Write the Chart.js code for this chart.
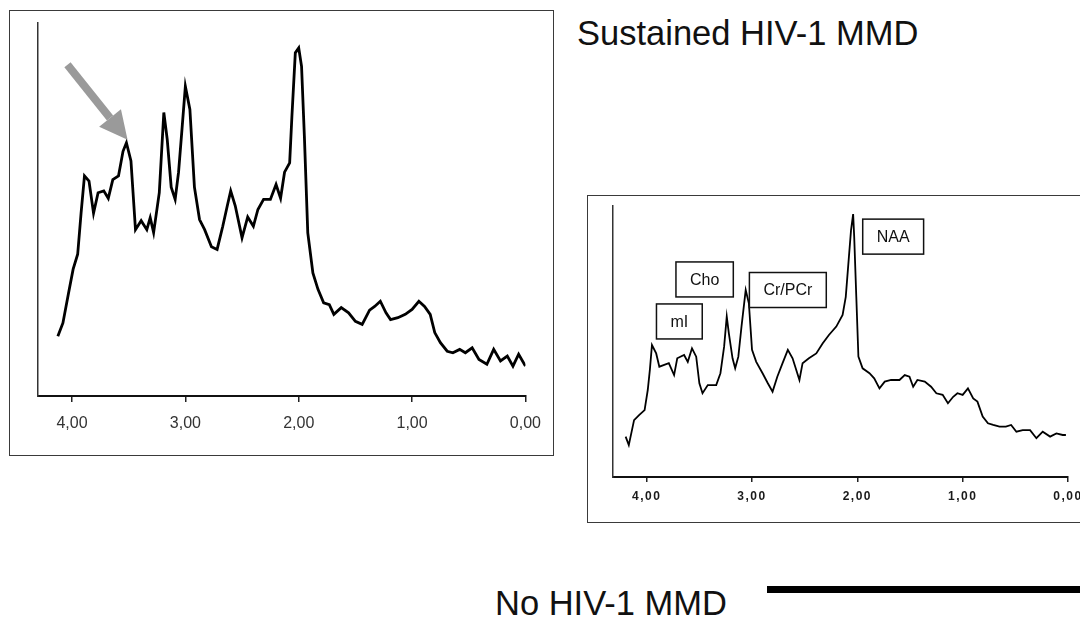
<!DOCTYPE html>
<html>
<head>
<meta charset="utf-8">
<script src="https://cdn.jsdelivr.net/npm/chart.js@4/dist/chart.umd.min.js"></script>
<style>
  html, body { margin: 0; padding: 0; background: #fff; }
  body { width: 1080px; height: 617px; position: relative; overflow: hidden; font-family: "Liberation Sans", Arial, sans-serif; }
  .panel { position: absolute; border: 1.5px solid #3a3a3a; box-sizing: border-box; }
  canvas { position: absolute; }
  .title { position: absolute; font-size: 34.5px; line-height: 1; color: #111; white-space: nowrap; }
  .bar { position: absolute; background: #000; }
</style>
</head>
<body>
<div class="panel" style="left:9px; top:10px; width:545px; height:446px;"></div>
<div class="panel" style="left:587px; top:195px; width:520px; height:328px;"></div>
<canvas id="leftChart" width="543" height="444" style="left:10px; top:11px;"></canvas>
<canvas id="rightChart" width="520" height="327" style="left:587px; top:195px;"></canvas>
<div class="title" style="left:577px; top:16px;">Sustained HIV-1 MMD</div>
<div class="title" style="left:495px; top:586px;">No HIV-1 MMD</div>
<div class="bar" style="left:767px; top:586px; width:330px; height:7px;"></div>
<script>
const TICKS = [4, 3, 2, 1, 0];

const leftPpm = [4.125,4.08,4.03,3.99,3.95,3.92,3.89,3.85,3.81,3.77,3.72,3.68,3.64,3.59,3.55,3.52,3.48,3.44,3.39,3.34,3.31,3.28,3.23,3.19,3.16,3.125,3.09,3.06,3.03,3.0,2.96,2.92,2.875,2.83,2.77,2.72,2.67,2.63,2.6,2.56,2.5,2.45,2.4,2.36,2.31,2.25,2.2,2.16,2.125,2.08,2.06,2.03,2.0,1.975,1.95,1.92,1.875,1.83,1.78,1.73,1.69,1.625,1.56,1.5,1.44,1.375,1.33,1.28,1.23,1.19,1.125,1.06,1.0,0.94,0.89,0.84,0.8,0.75,0.69,0.64,0.58,0.53,0.47,0.41,0.34,0.28,0.22,0.16,0.11,0.06,0.0];
const leftIntensity = [16,19.6,27.7,34,38,49,59,57.6,49,54.5,55,53,58,59,65.6,67.9,63,44.6,47,44.6,47.8,43.8,54.5,76,68.8,56,52.7,60,71.4,83,76.8,56,47.3,44.6,40,39.3,45.5,51,55,51,42.4,48,45.5,50,52.7,52.7,56.7,53,60,62.5,75,92,93.3,88.4,69.6,43.75,33,28.6,25,24.5,21.9,23.7,22.3,20,19.2,23,24,25.4,22.3,20.5,21,21.9,23.2,25.4,24,21.9,17,14.3,12,11.6,12.5,11.6,12.9,9.8,8.5,12.5,9.4,10.7,8,11.2,8];

const rightPpm = [4.2,4.17,4.14,4.12,4.07,4.02,3.99,3.97,3.95,3.91,3.88,3.84,3.79,3.74,3.71,3.645,3.61,3.57,3.53,3.5,3.47,3.42,3.34,3.3,3.265,3.24,3.22,3.185,3.16,3.13,3.1,3.06,3.03,3.0,2.96,2.9,2.85,2.805,2.76,2.71,2.66,2.615,2.55,2.52,2.46,2.39,2.33,2.27,2.2,2.14,2.11,2.08,2.06,2.04,2.03,2.01,1.99,1.95,1.885,1.84,1.79,1.74,1.68,1.6,1.55,1.505,1.47,1.43,1.36,1.3,1.25,1.19,1.14,1.09,1.05,1.0,0.95,0.9,0.86,0.81,0.76,0.71,0.65,0.59,0.54,0.49,0.43,0.36,0.3,0.24,0.17,0.11,0.05,0.02];
const rightIntensity = [14.9,11.8,17.3,21,22.9,24.7,32.1,39.5,48.7,45.6,40.7,41.3,42,37.6,43.8,45,42.5,47.5,44.4,34.6,30.9,33.9,33.9,38.3,48.1,59.2,53,43.8,40.1,44.4,55.5,69,64.1,46.9,42.5,38.3,34.6,31.5,37,42,46.9,43.8,35.8,42,43.8,45.6,49.3,52.4,55.5,59.8,66.5,81.3,91.1,97,88.7,66.5,44.4,40.1,38.3,36.4,32.7,35.2,35.8,35.8,37.6,37,33.3,35.8,35.2,33.3,30.9,30.3,27.2,29.6,30.9,30.3,32.7,29,27.8,22.3,19.8,19.2,18.6,18.6,19.2,16.7,17.3,17.3,14.3,16.7,14.9,16.1,15.5,15.5];

// nomes dos metabolitos e onde ficam as caixas (ppm, intensidade)
const peakNames = ["mI", "Cho", "Cr/PCr", "NAA"];
const peakBoxPpm = [3.69, 3.45, 2.66, 1.66];
const peakBoxLevel = [57.4, 72.9, 69, 88.7];

// seta cinza apontando o pico em ~3.5 ppm
const arrowFrom = { x: 4.04, y: 88.8 };
const arrowTo = { x: 3.51, y: 68.7 };

const toPoints = (xs, ys) => xs.map((x, i) => ({ x: x, y: ys[i] }));
const fmt = v => v.toFixed(2).replace('.', ',');

const arrowPlugin = {
  id: 'arrow',
  afterDatasetsDraw(chart) {
    const { ctx, scales } = chart;
    const x1 = scales.x.getPixelForValue(arrowFrom.x), y1 = scales.y.getPixelForValue(arrowFrom.y);
    const x2 = scales.x.getPixelForValue(arrowTo.x), y2 = scales.y.getPixelForValue(arrowTo.y);
    const ang = Math.atan2(y2 - y1, x2 - x1);
    const headLen = 28, headW = 14;
    const bx = x2 - headLen * Math.cos(ang), by = y2 - headLen * Math.sin(ang);
    ctx.save();
    ctx.strokeStyle = '#9a9a9a';
    ctx.fillStyle = '#9a9a9a';
    ctx.lineWidth = 8;
    ctx.beginPath();
    ctx.moveTo(x1, y1);
    ctx.lineTo(bx, by);
    ctx.stroke();
    ctx.beginPath();
    ctx.moveTo(x2, y2);
    ctx.lineTo(bx + headW * Math.sin(ang), by - headW * Math.cos(ang));
    ctx.lineTo(bx - headW * Math.sin(ang), by + headW * Math.cos(ang));
    ctx.closePath();
    ctx.fill();
    ctx.restore();
  }
};

const labelBoxPlugin = {
  id: 'labelBoxes',
  afterDatasetsDraw(chart) {
    const { ctx, scales } = chart;
    ctx.save();
    ctx.font = '16px "Liberation Sans", Arial, sans-serif';
    ctx.textAlign = 'center';
    ctx.textBaseline = 'middle';
    peakNames.forEach((name, i) => {
      const cx = scales.x.getPixelForValue(peakBoxPpm[i]);
      const cy = scales.y.getPixelForValue(peakBoxLevel[i]);
      const w = ctx.measureText(name).width + 28, h = 35;
      ctx.fillStyle = '#fff';
      ctx.fillRect(cx - w / 2, cy - h / 2, w, h);
      ctx.strokeStyle = '#111';
      ctx.lineWidth = 1.5;
      ctx.strokeRect(cx - w / 2, cy - h / 2, w, h);
      ctx.fillStyle = '#111';
      ctx.fillText(name, cx, cy + 1);
    });
    ctx.restore();
  }
};

// espaçamento entre letras nos rótulos do eixo da direita
const spacedTicks = {
  id: 'spacedTicks',
  beforeDraw(chart) { chart.ctx.letterSpacing = '1.5px'; },
  beforeDatasetsDraw(chart) { chart.ctx.letterSpacing = '0px'; }
};

function makeSpectrum(canvasId, points, opts) {
  return new Chart(document.getElementById(canvasId), {
    type: 'line',
    data: {
      datasets: [{
        data: points,
        borderColor: '#000',
        borderWidth: opts.lineWidth,
        pointRadius: 0,
        tension: 0,
        fill: false
      }]
    },
    options: {
      responsive: false,
      animation: false,
      devicePixelRatio: 1,
      layout: { padding: opts.padding },
      plugins: { legend: { display: false }, tooltip: { enabled: false } },
      scales: {
        x: {
          type: 'linear',
          reverse: true,
          min: 0,
          max: opts.maxPpm,
          afterBuildTicks: s => { s.ticks = TICKS.map(v => ({ value: v })); },
          afterFit: s => { s.height = opts.axisHeight; },
          grid: { drawOnChartArea: false, drawTicks: true, tickLength: opts.tickLength, color: '#222', lineWidth: 1.5 },
          border: { display: true, color: '#111', width: 2 },
          ticks: {
            callback: v => fmt(v),
            maxRotation: 0,
            autoSkip: false,
            padding: opts.labelPad,
            color: opts.tickColor,
            font: opts.tickFont
          }
        },
        y: {
          min: 0,
          max: 100,
          afterFit: s => { s.width = 0; },
          grid: { display: false },
          border: { display: true, color: '#333', width: 1.5 },
          ticks: { display: false }
        }
      }
    },
    plugins: opts.plugins
  });
}

makeSpectrum('leftChart', toPoints(leftPpm, leftIntensity), {
  maxPpm: 4.30,
  lineWidth: 2.8,
  padding: { left: 28, right: 24, top: 12, bottom: 0 },
  axisHeight: 59,
  tickLength: 6,
  labelPad: 12,
  tickColor: '#333',
  tickFont: { family: '"Liberation Sans", Arial, sans-serif', size: 16 },
  plugins: [arrowPlugin]
});

makeSpectrum('rightChart', toPoints(rightPpm, rightIntensity), {
  maxPpm: 4.32,
  lineWidth: 1.8,
  padding: { left: 26, right: 39, top: 11, bottom: 0 },
  axisHeight: 45,
  tickLength: 5,
  labelPad: 7,
  tickColor: '#1a1a1a',
  tickFont: { family: '"Liberation Sans", Arial, sans-serif', size: 12, weight: 'bold' },
  plugins: [spacedTicks, labelBoxPlugin]
});
</script>
</body>
</html>
